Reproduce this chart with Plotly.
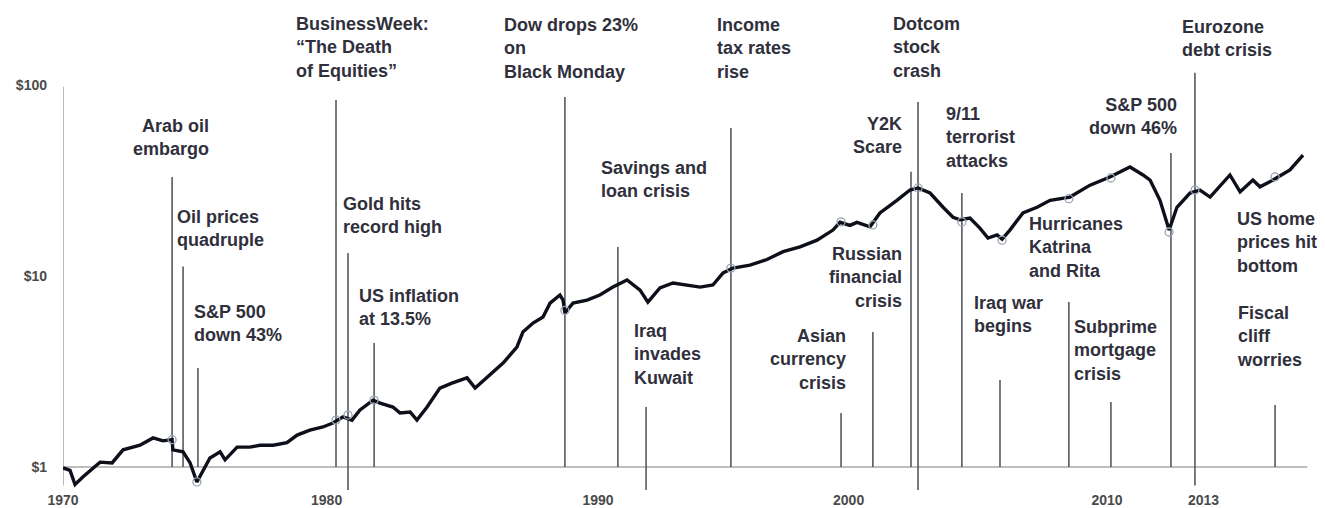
import plotly.graph_objects as go

# ---- data -----------------------------------------------------------------
# growth of $1 (log scale); x positions in (chart) years
years = [1970.00, 1970.27, 1970.46, 1970.77, 1971.42, 1971.88, 1972.30, 1972.95,
         1973.45, 1973.83, 1974.18, 1974.21, 1974.60, 1974.87, 1975.13, 1975.36,
         1975.63, 1976.02, 1976.21, 1976.67, 1977.16, 1977.55, 1978.05, 1978.58,
         1978.97, 1979.46, 1979.96, 1980.34, 1980.73, 1981.07, 1981.38, 1981.88,
         1982.15, 1982.64, 1982.91, 1983.30, 1983.56, 1983.95, 1984.44, 1984.90,
         1985.48, 1985.79, 1986.25, 1986.86, 1987.39, 1987.62, 1988.01, 1988.39,
         1988.66, 1989.04, 1989.16, 1989.23, 1989.54, 1990.08, 1990.57, 1991.07,
         1991.61, 1992.11, 1992.41, 1992.87, 1993.37, 1993.91, 1994.41, 1994.90,
         1995.29, 1995.67, 1996.32, 1996.97, 1997.59, 1998.24, 1998.89, 1999.50,
         1999.77, 2000.15, 2000.42, 2000.92, 2001.30, 2001.95, 2002.45, 2002.76,
         2003.22, 2003.72, 2004.10, 2004.37, 2004.75, 2005.13, 2005.44, 2005.79,
         2005.98, 2006.28, 2006.78, 2007.32, 2007.82, 2008.58, 2009.35, 2010.11,
         2010.88, 2011.38, 2011.65, 2012.03, 2012.22, 2012.38, 2012.68, 2013.18,
         2013.56, 2013.95, 2014.71, 2015.10, 2015.59, 2015.86, 2016.36, 2017.01,
         2017.51]
values = [0.99, 0.96, 0.81, 0.89, 1.06, 1.05, 1.23, 1.30,
          1.42, 1.37, 1.39, 1.23, 1.20, 1.05, 0.835, 0.96,
          1.115, 1.20, 1.09, 1.27, 1.27, 1.30, 1.30, 1.34,
          1.47, 1.56, 1.62, 1.70, 1.83, 1.76, 1.99, 2.24,
          2.16, 2.06, 1.92, 1.94, 1.76, 2.06, 2.59, 2.75,
          2.93, 2.59, 2.96, 3.50, 4.24, 5.09, 5.67, 6.10,
          7.21, 7.95, 7.48, 6.40, 7.21, 7.48, 7.95, 8.75,
          9.53, 8.44, 7.30, 8.66, 9.19, 8.97, 8.75, 8.97,
          10.37, 11.0, 11.4, 12.2, 13.4, 14.2, 15.4, 17.4,
          19.1, 18.4, 19.1, 18.1, 21.4, 24.9, 28.2, 28.9,
          27.2, 22.9, 20.3, 19.7, 20.1, 17.8, 15.8, 16.4,
          15.6, 17.4, 21.4, 22.9, 24.9, 25.9, 29.9, 33.0,
          37.2, 33.8, 31.8, 24.9, 20.3, 17.4, 22.9, 27.2,
          28.2, 25.9, 33.8, 27.6, 31.8, 29.3, 31.8, 35.9,
          43.0]

# faint circles on the line at the events
marker_years = [1974.18, 1975.13, 1980.46, 1980.92, 1981.92, 1989.23, 1995.59,
                1999.81, 2001.03, 2002.76, 2004.44, 2005.98, 2008.54, 2010.15,
                2012.38, 2013.37, 2016.44]
marker_values = [1.39, 0.835, 1.76, 1.87, 2.24, 6.6, 11.0,
                 19.2, 18.5, 28.9, 19.2, 15.4, 25.4, 32.6,
                 17.0, 28.2, 33.0]

tick_labels = ["1970", "1980", "1990", "2000", "2010", "2013"]
y_tick_values = [1, 10, 100]
y_tick_labels = ["$1", "$10", "$100"]

event_labels = [
    "Arab oil<br>embargo",
    "Oil prices<br>quadruple",
    "S&P 500<br>down 43%",
    "BusinessWeek:<br>\u201cThe Death<br>of Equities\u201d",
    "Gold hits<br>record high",
    "US inflation<br>at 13.5%",
    "Dow drops 23%<br>on<br>Black Monday",
    "Income<br>tax rates<br>rise",
    "Savings and<br>loan crisis",
    "Iraq<br>invades<br>Kuwait",
    "Asian<br>currency<br>crisis",
    "Russian<br>financial<br>crisis",
    "Y2K<br>Scare",
    "Dotcom<br>stock<br>crash",
    "9/11<br>terrorist<br>attacks",
    "Iraq war<br>begins",
    "Hurricanes<br>Katrina<br>and Rita",
    "Subprime<br>mortgage<br>crisis",
    "S&P 500<br>down 46%",
    "Eurozone<br>debt crisis",
    "US home<br>prices hit<br>bottom",
    "Fiscal<br>cliff<br>worries",
]
event_years = [1974.18, 1974.60, 1975.17, 1980.46, 1980.92, 1981.92, 1989.23,
               1995.59, 1991.26, 1992.34, 1999.81, 2001.03, 2002.49, 2002.76,
               2004.44, 2005.90, 2008.54, 2010.15, 2012.45, 2013.37, None, 2016.44]
event_tops = [33.0, 11.2, 3.30, 83.5, 13.2, 4.46, 86.6,
              59.6, 14.2, 2.06, 1.92, 5.09, 35.1, 81.5,
              27.2, 2.85, 7.30, 2.19, 44.1, 116.0, None, 2.11]
event_bottoms = [1, 1, 1, 1, 0.70, 1, 1,
                 1, 1, 0.67, 1, 1, 1, 0.67,
                 1, 1, 1, 1, 1, 0.80, None, 1]

# ---- layout of the labels (anchor side, anchor x in chart years, centre px) --
label_layout = [
    ("right", 1975.63, 137), ("left", 1974.33, 228), ("left", 1974.98, 323),
    ("left", 1978.89, 48), ("left", 1980.69, 216), ("left", 1981.30, 307),
    ("left", 1986.86, 49), ("left", 1995.02, 49), ("left", 1990.57, 180),
    ("left", 1991.84, 354), ("right", 2000.04, 359), ("right", 2002.18, 277),
    ("right", 2002.18, 135), ("left", 2001.76, 48), ("left", 2003.79, 137),
    ("left", 2004.87, 314), ("left", 2006.97, 247), ("left", 2008.70, 350),
    ("right", 2012.72, 117), ("left", 2012.84, 38), ("left", 2014.94, 243),
    ("left", 2014.94, 336),
]
tick_positions = [1970.0, 1980.1, 1990.5, 2000.1, 2010.0, 2013.7]

W, H = 1325, 508
ML, MR, MT, MB = 63, 15, 0, 18
PLOT_H = H - MT - MB
X_RANGE = [1970.0, 1970.0 + (W - ML - MR) / 26.1]
Y_RANGE = [(467 - PLOT_H) / 191.0, 467 / 191.0]   # log10 units

fig = go.Figure()

# axes lines (drawn through the data scales)
fig.add_trace(go.Scatter(x=[1970.0, 1970.0, None, 1970.0, X_RANGE[1] - 0.1],
                         y=[0.80, 98, None, 1, 1], mode="lines",
                         line=dict(color="#a8a8a8", width=1.6),
                         hoverinfo="skip", showlegend=False))

# event lines
lx, ly = [], []
for yr, top, bot in zip(event_years, event_tops, event_bottoms):
    if yr is None:
        continue
    lx += [yr, yr, None]
    ly += [bot, top, None]
fig.add_trace(go.Scatter(x=lx, y=ly, mode="lines",
                         line=dict(color="#555a60", width=1.6),
                         hoverinfo="skip", showlegend=False))

# main line
fig.add_trace(go.Scatter(x=years, y=values, mode="lines",
                         line=dict(color="#0d0f1a", width=3.4),
                         showlegend=False))

# faint circles
fig.add_trace(go.Scatter(x=marker_years, y=marker_values, mode="markers",
                         marker=dict(size=8, color="rgba(0,0,0,0)",
                                     line=dict(color="#9aa4b4", width=1.3)),
                         hoverinfo="skip", showlegend=False))

for text, (anchor, ax_year, ypx) in zip(event_labels, label_layout):
    fig.add_annotation(x=ax_year, xref="x", y=1 - ypx / PLOT_H, yref="paper",
                       text=text, showarrow=False, xanchor=anchor,
                       yanchor="middle", align=anchor, borderpad=0,
                       font=dict(family="Liberation Sans, Arial, sans-serif",
                                 size=18, color="#30303c", weight="bold"))

fig.update_layout(
    width=W, height=H,
    margin=dict(l=ML, r=MR, t=MT, b=MB, autoexpand=False),
    paper_bgcolor="white", plot_bgcolor="white",
    showlegend=False,
    xaxis=dict(range=X_RANGE, showgrid=False, zeroline=False, showline=False,
               tickmode="array", tickvals=tick_positions, ticktext=tick_labels,
               ticks="", tickfont=dict(family="Liberation Sans, Arial", size=14,
                                        color="#4a4a4a", weight="bold"),
               automargin=False, fixedrange=True),
    yaxis=dict(type="log", range=Y_RANGE, showgrid=False, zeroline=False,
               showline=False, tickmode="array", tickvals=y_tick_values,
               ticktext=y_tick_labels, ticks="", ticklabelstandoff=15,
               tickfont=dict(family="Liberation Sans, Arial", size=14,
                             color="#4a4a4a", weight="bold"),
               automargin=False, fixedrange=True),
)

fig.write_html("out.html", config={"displayModeBar": False},
               post_script="document.body.style.margin='0';"
                           "document.body.style.overflow='hidden';")
